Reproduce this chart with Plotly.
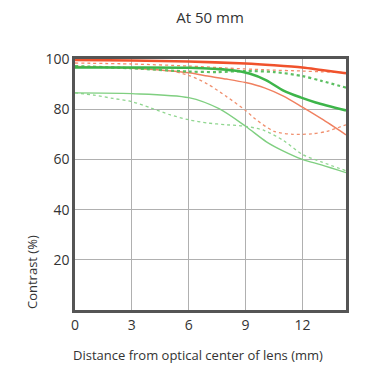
import plotly.graph_objects as go

# Distance from optical center (mm)
red_s_x = [0, 3, 6, 9, 10.5, 12, 13, 14.3]
red_s_y = [99.6, 99.4, 99.0, 98.2, 97.5, 96.6, 95.6, 94.3]

red_d_x = [0, 3, 6, 8, 10, 12, 13, 14.3]
red_d_y = [98.4, 98.0, 97.2, 96.4, 95.7, 95.2, 94.9, 94.6]

grn_s_x = [0, 3, 6, 7.5, 8.3, 9.2, 10.1, 11, 11.9, 12.7, 14.3]
grn_s_y = [96.6, 96.6, 96.5, 96.0, 95.5, 94.2, 91.5, 87.4, 84.7, 82.7, 79.5]

grn_d_x = [0, 3, 6, 7.5, 9, 10.5, 12, 13, 14.3]
grn_d_y = [97.2, 96.3, 95.0, 94.8, 95.2, 94.8, 93.2, 91.3, 88.6]

org_s_x = [0, 3, 6, 7, 8, 9, 10, 11, 12, 13, 14.3]
org_s_y = [97.0, 96.3, 94.5, 93.2, 92.0, 90.6, 88.5, 85.2, 80.8, 76.2, 69.8]

org_d_x = [0, 3, 5, 6, 7, 8, 9, 9.5, 10.5, 11.5, 12.5, 13.3, 14.3]
org_d_y = [97.0, 96.5, 95.3, 93.5, 90.0, 85.0, 79.5, 76.2, 71.2, 70.0, 70.2, 71.2, 73.8]

lg_s_x = [0, 3, 6, 7.6, 9, 10.1, 11, 12, 13, 14.3]
lg_s_y = [86.5, 86.2, 84.6, 80.2, 73.2, 67.0, 63.3, 60.0, 57.8, 54.7]

lg_d_x = [0, 1, 2, 3, 4, 5, 6, 7, 8, 9, 10, 11, 12, 13, 14.3]
lg_d_y = [86.5, 85.6, 84.3, 83.0, 80.5, 77.8, 75.8, 74.5, 73.8, 73.2, 71.5, 67.5, 62.0, 59.0, 55.5]

x_ticks = [0, 3, 6, 9, 12]
y_ticks = [20, 40, 60, 80, 100]

fig = go.Figure()

def add(x, y, color, width, dash="solid"):
    fig.add_trace(go.Scatter(x=x, y=y, mode="lines",
                             line=dict(color=color, width=width, dash=dash, shape="spline", smoothing=0.8),
                             hoverinfo="skip", showlegend=False))

add(lg_d_x, lg_d_y, "#8fd68f", 1.3, "dot")
add(lg_s_x, lg_s_y, "#7fcf80", 1.4)
add(org_d_x, org_d_y, "#f0906f", 1.3, "dot")
add(org_s_x, org_s_y, "#f08060", 1.5)
add(red_d_x, red_d_y, "#f38a6a", 1.3, "dot")
add(grn_d_x, grn_d_y, "#5cbf62", 2.2, "dot")
add(grn_s_x, grn_s_y, "#3db54a", 2.6)
add(red_s_x, red_s_y, "#f0522c", 2.6)

W, H = 373, 367
L, R, T, B = 67, 35, 51, 65
pw, ph = W - L - R, H - T - B

fig.update_layout(
    width=W, height=H,
    margin=dict(l=L, r=R, t=T, b=B, autoexpand=False),
    paper_bgcolor="white", plot_bgcolor="white",
    font=dict(family="Open Sans, Lato, sans-serif", color="#333"),
    title=dict(text="At 50 mm", x=202 / W, xref="container", xanchor="center",
               y=1 - 10 / H, yref="container", yanchor="middle",
               font=dict(size=15, color="#333")),
    xaxis=dict(range=[0, 14.3], tickvals=x_ticks, ticktext=[str(v) for v in x_ticks],
               showgrid=True, gridcolor="#b0b0b0", gridwidth=1,
               showline=True, linecolor="#555", linewidth=2.5, mirror=True,
               ticks="", tickfont=dict(size=14, color="#333"), zeroline=False),
    yaxis=dict(range=[0, 100], tickvals=y_ticks, ticktext=[str(v) for v in y_ticks],
               showgrid=True, gridcolor="#b0b0b0", gridwidth=1,
               showline=True, linecolor="#555", linewidth=2.5, mirror=True,
               ticks="", tickfont=dict(size=14, color="#333"), zeroline=False),
    annotations=[
        dict(text="Contrast (%)", textangle=-90,
             x=(24 - L) / pw, xref="paper",
             y=(T + ph - 264) / ph, yref="paper", showarrow=False,
             font=dict(size=13, color="#333"),
             xanchor="center", yanchor="middle"),
        dict(text="Distance from optical center of lens (mm)",
             x=(190 - L) / pw, xref="paper",
             y=(T + ph - 347) / ph, yref="paper", showarrow=False,
             font=dict(size=13, color="#333"),
             xanchor="center", yanchor="middle"),
    ],
)
fig.write_html("out.html")
